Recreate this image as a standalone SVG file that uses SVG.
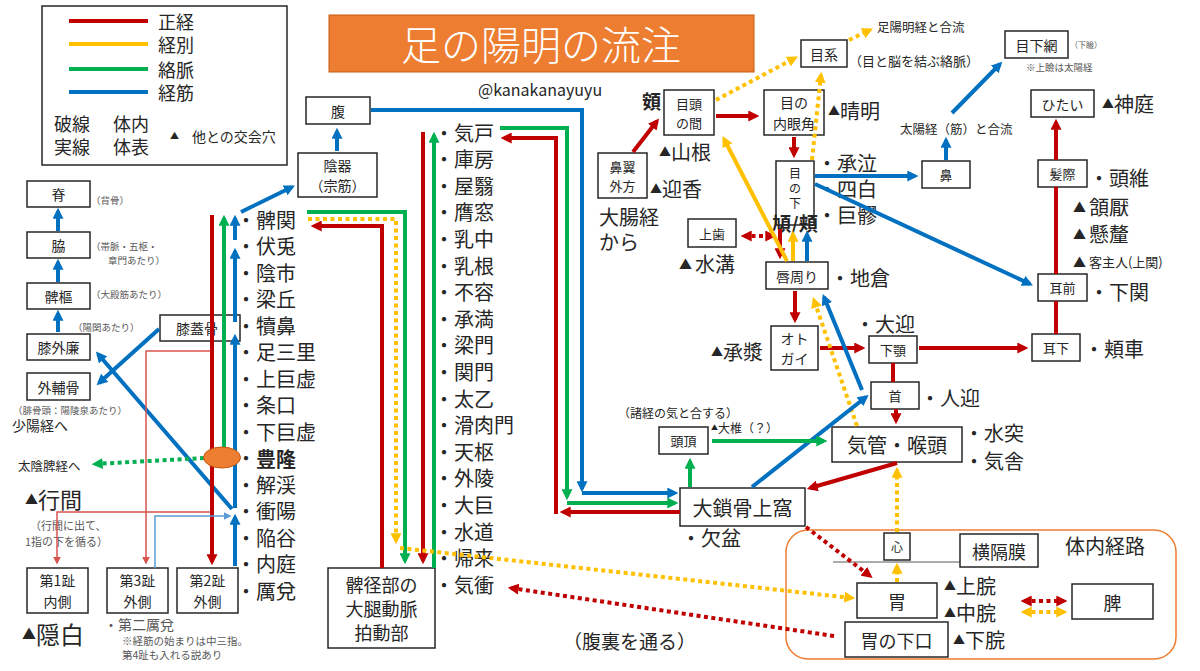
<svg xmlns="http://www.w3.org/2000/svg" width="1200" height="671" viewBox="0 0 1200 671">
<defs>
<marker id="mR" viewBox="0 0 10 10" refX="7" refY="5" markerWidth="11" markerHeight="11" markerUnits="userSpaceOnUse" orient="auto-start-reverse"><path d="M0,0L10,5L0,10z" fill="#C00000"/></marker>
<marker id="mY" viewBox="0 0 10 10" refX="7" refY="5" markerWidth="11" markerHeight="11" markerUnits="userSpaceOnUse" orient="auto-start-reverse"><path d="M0,0L10,5L0,10z" fill="#FFC000"/></marker>
<marker id="mG" viewBox="0 0 10 10" refX="7" refY="5" markerWidth="11" markerHeight="11" markerUnits="userSpaceOnUse" orient="auto-start-reverse"><path d="M0,0L10,5L0,10z" fill="#00B050"/></marker>
<marker id="mB" viewBox="0 0 10 10" refX="7" refY="5" markerWidth="11" markerHeight="11" markerUnits="userSpaceOnUse" orient="auto-start-reverse"><path d="M0,0L10,5L0,10z" fill="#0070C0"/></marker>
<marker id="mr" viewBox="0 0 10 10" refX="8" refY="5" markerWidth="8" markerHeight="8" markerUnits="userSpaceOnUse" orient="auto"><path d="M0,0L10,5L0,10z" fill="#D9534F"/></marker>
<marker id="mb" viewBox="0 0 10 10" refX="8" refY="5" markerWidth="8" markerHeight="8" markerUnits="userSpaceOnUse" orient="auto"><path d="M0,0L10,5L0,10z" fill="#5B9BD5"/></marker>
</defs>
<style>
text{font-family:"Noto Sans CJK JP","Noto Sans",sans-serif;fill:#262626;dominant-baseline:central}
.c{text-anchor:middle}
.box{fill:#fff;stroke:#262626;stroke-width:1.5}
.L{font-size:20px}
.M{font-size:14px}
.S{font-size:13px}
.n{font-size:9.5px;fill:#595959}
.gr{fill:#595959}
.r{stroke:#C00000;stroke-width:4;fill:none}
.y{stroke:#FFC000;stroke-width:4;fill:none}
.g{stroke:#00B050;stroke-width:4;fill:none}
.b{stroke:#0070C0;stroke-width:4;fill:none}
.d{stroke-dasharray:4 3.5}
.tr{stroke:#D9534F;stroke-width:1.5;fill:none}
.tb{stroke:#5B9BD5;stroke-width:1.5;fill:none}
</style>
<rect width="1200" height="671" fill="#fff"/>

<g id="legend">
<rect x="42" y="6" width="245" height="159" fill="#fff" stroke="#262626" stroke-width="1.5"/>
<line x1="69" y1="21" x2="148" y2="21" class="r"/>
<line x1="69" y1="44" x2="148" y2="44" class="y"/>
<line x1="69" y1="69" x2="148" y2="69" class="g"/>
<line x1="69" y1="92" x2="148" y2="92" class="b"/>
<text x="158" y="21" style="font-size:18px">正経</text>
<text x="158" y="44" style="font-size:18px">経別</text>
<text x="158" y="69" style="font-size:18px">絡脈</text>
<text x="158" y="92" style="font-size:18px">経筋</text>
<text x="54" y="123" style="font-size:18px">破線</text>
<text x="113" y="123" style="font-size:18px">体内</text>
<text x="54" y="146" style="font-size:18px">実線</text>
<text x="113" y="146" style="font-size:18px">体表</text>
<text x="170" y="135" style="font-size:9px">▲</text>
<text x="192" y="136" style="font-size:14px">他との交会穴</text>
</g>

<g id="title">
<rect x="329" y="15" width="425" height="57" fill="#ED7D31" stroke="#C55A11" stroke-width="1"/>
<text x="541" y="43" class="c" style="font-size:40px;fill:#fff;font-weight:300">足の陽明の流注</text>
</g>
<g id="credit"><text x="478" y="89" style="font-size:16px">@kanakanayuyu</text></g>

<g id="n-sekotsu"><rect class="box" x="27" y="181" width="63" height="26"/><text class="c M" x="58.5" y="194">脊</text><text class="n" x="91" y="200">（背骨）</text></g>
<g id="n-waki"><rect class="box" x="27" y="232" width="63" height="26"/><text class="c M" x="58.5" y="245">脇</text><text class="n" x="91" y="246">（帯脈・五枢・</text><text class="n" x="108" y="260">章門あたり）</text></g>
<g id="n-hisu"><rect class="box" x="27" y="283" width="63" height="26"/><text class="c M" x="58.5" y="296">髀樞</text><text class="n" x="91" y="294">（大殿筋あたり）</text></g>
<g id="n-shitsugairen"><rect class="box" x="27" y="334" width="63" height="26"/><text class="c M" x="58.5" y="347">膝外廉</text><text class="n" x="73" y="327">（陽関あたり）</text></g>
<g id="n-gaihokotsu"><rect class="box" x="27" y="373" width="63" height="27"/><text class="c M" x="58.5" y="386.5">外輔骨</text><text class="n" x="13" y="410">（腓骨頭：陽陵泉あたり）</text><text x="12" y="425" style="font-size:14px">少陽経へ</text></g>
<g id="n-shitsugaikotsu"><rect class="box" x="160" y="315" width="80" height="26"/><text class="c M" x="197" y="328">膝蓋骨</text></g>
<g id="n-toe1"><rect class="box" x="27" y="568" width="61" height="45"/><text class="c M" x="57.5" y="580">第1趾</text><text class="c M" x="57.5" y="601">内側</text></g>
<g id="n-toe3"><rect class="box" x="107" y="568" width="61" height="45"/><text class="c M" x="137.5" y="580">第3趾</text><text class="c M" x="137.5" y="601">外側</text></g>
<g id="n-toe2"><rect class="box" x="177" y="568" width="61" height="45"/><text class="c M" x="207.5" y="580">第2趾</text><text class="c M" x="207.5" y="601">外側</text></g>
<g id="left-notes">
<text x="18" y="465" style="font-size:12.5px">太陰脾経へ</text>
<text x="25" y="498" style="font-size:22px"><tspan style="font-size:13px">▲</tspan>行間</text>
<text x="30" y="525" style="font-size:11px" class="gr">（行間に出て、</text>
<text x="25" y="541" style="font-size:11px" class="gr">1指の下を循る）</text>
<text x="22" y="633" style="font-size:24px"><tspan style="font-size:14px">▲</tspan>隠白</text>
<text x="104" y="624" style="font-size:14px" class="gr">・第二厲兌</text>
<text x="122" y="640" style="font-size:10.5px" class="gr">※経筋の始まりは中三指。</text>
<text x="122" y="654" style="font-size:10.5px" class="gr">第4趾も入れる説あり</text>
</g>

<g id="leg-points" class="L">
<text x="236" y="219">・髀関</text>
<text x="236" y="245.5">・伏兎</text>
<text x="236" y="272">・陰市</text>
<text x="236" y="298.5">・梁丘</text>
<text x="236" y="325">・犢鼻</text>
<text x="236" y="351.5">・足三里</text>
<text x="236" y="378">・上巨虚</text>
<text x="236" y="404.5">・条口</text>
<text x="236" y="431">・下巨虚</text>
<text x="236" y="457.5">・<tspan style="font-weight:bold">豊隆</tspan></text>
<text x="236" y="484">・解渓</text>
<text x="236" y="510.5">・衝陽</text>
<text x="236" y="537">・陥谷</text>
<text x="236" y="563.5">・内庭</text>
<text x="236" y="590">・厲兌</text>
</g>

<g id="n-hara"><rect class="box" x="306" y="97" width="64" height="27"/><text class="c M" x="338" y="110.5">腹</text></g>
<g id="n-inki"><rect class="box" x="298" y="153" width="79" height="44"/><text class="c M" x="337.5" y="165">陰器</text><text class="c M" x="337.5" y="185">（宗筋）</text></g>
<g id="n-hikei"><rect class="box" x="328" y="568" width="107" height="80"/><text class="c" style="font-size:18px" x="381.5" y="584">髀径部の</text><text class="c" style="font-size:18px" x="381.5" y="608">大腿動脈</text><text class="c" style="font-size:18px" x="381.5" y="632">拍動部</text></g>

<g id="trunk-points" class="L">
<text x="434" y="132">・気戸</text>
<text x="434" y="158.6">・庫房</text>
<text x="434" y="185.2">・屋翳</text>
<text x="434" y="211.8">・膺窓</text>
<text x="434" y="238.4">・乳中</text>
<text x="434" y="265">・乳根</text>
<text x="434" y="291.6">・不容</text>
<text x="434" y="318.2">・承満</text>
<text x="434" y="344.8">・梁門</text>
<text x="434" y="371.4">・関門</text>
<text x="434" y="398">・太乙</text>
<text x="434" y="424.6">・滑肉門</text>
<text x="434" y="451.2">・天枢</text>
<text x="434" y="477.8">・外陵</text>
<text x="434" y="504.4">・大巨</text>
<text x="434" y="531">・水道</text>
<text x="434" y="557.6">・帰来</text>
<text x="434" y="584.2">・気衝</text>
</g>
<text x="563" y="640" style="font-size:19px">（腹裏を通る）</text>

<g id="n-megashira"><rect class="box" x="664" y="90" width="50" height="45"/><text class="c S" x="689" y="103">目頭</text><text class="c S" x="689" y="122">の間</text><text x="642" y="100" style="font-size:19px;font-weight:bold">頞</text><text x="659" y="151" class="L"><tspan style="font-size:12px">▲</tspan>山根</text></g>
<g id="n-naiganka"><rect class="box" x="764" y="90" width="60" height="45"/><text class="c M" x="794" y="102">目の</text><text class="c M" x="794" y="123">内眼角</text><text x="828" y="110" class="L"><tspan style="font-size:12px">▲</tspan>晴明</text></g>
<g id="n-mokkei"><rect class="box" x="801" y="40" width="46" height="27"/><text class="c M" x="824" y="53.5">目系</text><text x="849" y="60" style="font-size:13px">（目と脳を結ぶ絡脈）</text><text x="877" y="26" style="font-size:12.5px">足陽明経と合流</text></g>
<g id="n-mokkamou"><rect class="box" x="1005" y="31" width="63" height="27"/><text class="c M" x="1036.5" y="44.5">目下網</text><text x="1070" y="44" style="font-size:8px" class="gr">（下瞼）</text><text x="1026" y="67" style="font-size:9.5px" class="gr">※上瞼は太陽経</text></g>
<g id="n-hitai"><rect class="box" x="1031" y="90" width="63" height="27"/><text class="c M" x="1062.5" y="103.5">ひたい</text><text x="1102" y="103" class="L"><tspan style="font-size:12px">▲</tspan>神庭</text></g>
<g id="n-biyoku"><rect class="box" x="598" y="153" width="49" height="45"/><text class="c S" x="622.5" y="166">鼻翼</text><text class="c S" x="622.5" y="185">外方</text><text x="650" y="188" class="L"><tspan style="font-size:12px">▲</tspan>迎香</text><text x="599" y="216" class="L">大腸経</text><text x="599" y="241" class="L">から</text></g>
<g id="n-menoshita"><rect class="box" x="776" y="161" width="38" height="64"/><text class="c" style="font-size:12px" x="795" y="172">目</text><text class="c" style="font-size:12px" x="795" y="187">の</text><text class="c" style="font-size:12px" x="795" y="202">下</text><text class="c" x="795" y="222" style="font-size:19px;font-weight:bold">頄/頬</text></g>
<g id="face-points1" class="L"><text x="817" y="162">・承泣</text><text x="817" y="188">・四白</text><text x="817" y="214">・巨髎</text></g>
<g id="n-hana"><rect class="box" x="922" y="161" width="48" height="27"/><text class="c S" x="946" y="174.5">鼻</text><text x="900" y="128" style="font-size:12.5px">太陽経（筋）と合流</text></g>
<g id="n-hassai"><rect class="box" x="1038" y="160" width="49" height="27"/><text class="c S" x="1062.5" y="173.5">髪際</text><text x="1089" y="177" class="L">・頭維</text></g>
<g id="temple-points"><text x="1073" y="206" class="L"><tspan style="font-size:13px">▲ </tspan>頷厭</text><text x="1073" y="233" class="L"><tspan style="font-size:13px">▲ </tspan>懸釐</text><text x="1073" y="261" style="font-size:13px">▲ 客主人(上関)</text></g>
<g id="n-jizen"><rect class="box" x="1038" y="274" width="49" height="27"/><text class="c S" x="1062.5" y="287.5">耳前</text><text x="1089" y="291" class="L">・下関</text></g>
<g id="n-joshi"><rect class="box" x="688" y="219" width="48" height="28"/><text class="c S" x="712" y="233">上歯</text><text x="679" y="263" class="L"><tspan style="font-size:13px">▲ </tspan>水溝</text></g>
<g id="n-shinshuu"><rect class="box" x="766" y="262" width="62" height="27"/><text class="c M" x="797" y="275.5">唇周り</text><text x="830" y="277" class="L">・地倉</text></g>
<g id="n-otogai"><rect class="box" x="771" y="326" width="47" height="44"/><text class="c M" x="794.5" y="338">オト</text><text class="c M" x="794.5" y="358">ガイ</text><text x="711" y="351" class="L"><tspan style="font-size:12px">▲</tspan>承漿</text></g>
<g id="n-kagaku"><rect class="box" x="869" y="336" width="48" height="27"/><text class="c S" x="893" y="349.5">下顎</text><text x="855" y="323" class="L">・大迎</text></g>
<g id="n-jika"><rect class="box" x="1032" y="334" width="48" height="27"/><text class="c S" x="1056" y="347.5">耳下</text><text x="1084" y="348" class="L">・頬車</text></g>
<g id="n-kubi"><rect class="box" x="871" y="382" width="48" height="27"/><text class="c S" x="895" y="395.5">首</text><text x="920" y="397" class="L">・人迎</text></g>
<g id="n-kikan"><rect class="box" x="832" y="427" width="130" height="35"/><text class="c L" x="897" y="444.5">気管・喉頭</text><text x="964" y="432" class="L">・水突</text><text x="964" y="460" class="L">・気舎</text></g>
<g id="n-touchou"><rect class="box" x="659" y="427" width="49" height="27"/><text class="c S" x="683.5" y="440.5">頭頂</text><text x="618" y="412" style="font-size:12px">（諸経の気と合する）</text><text x="711" y="427" style="font-size:12px"><tspan style="font-size:7px">▲</tspan>大椎（？）</text></g>
<g id="n-sakotsu"><rect class="box" x="680" y="488" width="125" height="38"/><text class="c L" x="742.5" y="507">大鎖骨上窩</text><text x="681" y="537" class="L">・欠盆</text></g>

<g id="n-tainai"><rect x="786" y="530" width="390" height="129" rx="22" fill="none" stroke="#ED7D31" stroke-width="1.5"/><text x="1065" y="545" class="L">体内経路</text></g>
<line x1="833" y1="562" x2="960" y2="562" stroke="#595959" stroke-width="1"/>
<g id="n-shin"><rect class="box" x="884" y="533" width="26" height="27"/><text class="c" style="font-size:12px" x="897" y="546.5">心</text></g>
<g id="n-oukakumaku"><rect class="box" x="960" y="534" width="78" height="33"/><text class="c" style="font-size:18px" x="999" y="550.5">横隔膜</text></g>
<g id="n-i"><rect class="box" x="857" y="583" width="80" height="35"/><text class="c" style="font-size:18px" x="897" y="600.5">胃</text></g>
<g id="n-ikakou"><rect class="box" x="845" y="622" width="103" height="35"/><text class="c" style="font-size:18px" x="896.5" y="639.5">胃の下口</text></g>
<g id="stomach-points"><text x="944" y="585" class="L"><tspan style="font-size:12px">▲</tspan>上脘</text><text x="944" y="612" class="L"><tspan style="font-size:12px">▲</tspan>中脘</text><text x="953" y="639" class="L"><tspan style="font-size:12px">▲</tspan>下脘</text></g>
<g id="n-hi"><rect class="box" x="1072" y="584" width="81" height="35"/><text class="c" style="font-size:18px" x="1112.5" y="601.5">脾</text></g>

<g id="connectors">
<line x1="58" y1="332" x2="58" y2="313" class="b" marker-end="url(#mB)"/>
<line x1="58" y1="282" x2="58" y2="262" class="b" marker-end="url(#mB)"/>
<line x1="58" y1="231" x2="58" y2="211" class="b" marker-end="url(#mB)"/>
<line x1="159" y1="329" x2="99" y2="383" class="b" marker-end="url(#mB)"/>
<line x1="232" y1="509" x2="98" y2="354" class="b" marker-end="url(#mB)"/>
<line x1="235" y1="566" x2="235" y2="517" class="b" marker-end="url(#mB)"/>
<line x1="235" y1="508" x2="235" y2="337" class="b" marker-end="url(#mB)"/>
<line x1="235" y1="322" x2="235" y2="251" class="b" marker-end="url(#mB)"/>
<line x1="235" y1="240" x2="235" y2="218" class="b" marker-end="url(#mB)"/>
<line x1="241" y1="212" x2="292" y2="187" class="b" marker-end="url(#mB)"/>
<line x1="337" y1="151" x2="337" y2="131" class="b" marker-end="url(#mB)"/>
<line x1="212" y1="215" x2="212" y2="562" class="r" marker-end="url(#mR)"/>
<line x1="224" y1="447" x2="224" y2="218" class="g" marker-end="url(#mG)"/>
<line x1="204" y1="458" x2="95" y2="464" class="g d" marker-end="url(#mG)"/>
<path d="M210,512H57V563" class="tr" marker-end="url(#mr)"/>
<path d="M210,351H146V563" class="tr" marker-end="url(#mr)"/>
<path d="M155,568V516H230" class="tb" marker-end="url(#mb)"/>
<path d="M307,212H405V561" class="g" marker-end="url(#mG)"/>
<path d="M308,219H396V541" class="y d" marker-end="url(#mY)"/>
<path d="M382,568V226H314" class="r" marker-end="url(#mR)"/>
<path d="M423,132V561" class="r" marker-end="url(#mR)"/>
<path d="M434,568V135" class="g" marker-end="url(#mG)"/>
<path d="M400,548L852,598" class="y d" marker-end="url(#mY)"/>
<path d="M371,110H582V489" class="b" marker-end="url(#mB)"/>
<path d="M582,493H675" class="b" marker-end="url(#mB)"/>
<path d="M500,128H567V497" class="g" marker-end="url(#mG)"/>
<path d="M567,503H675" class="g" marker-end="url(#mG)"/>
<path d="M680,512H563" class="r" marker-end="url(#mR)"/>
<path d="M556,514V138H504" class="r" marker-end="url(#mR)"/>
<path d="M834,636L511,588" class="r d" marker-end="url(#mR)"/>
<line x1="633" y1="152" x2="657" y2="121" class="r" marker-end="url(#mR)"/>
<line x1="716" y1="116" x2="756" y2="116" class="r" marker-end="url(#mR)"/>
<line x1="716" y1="100" x2="795" y2="58" class="y d" marker-end="url(#mY)"/>
<line x1="849" y1="40" x2="870" y2="30" class="y d" marker-end="url(#mY)"/>
<line x1="812" y1="160" x2="821" y2="75" class="y d" marker-end="url(#mY)"/>
<line x1="794" y1="137" x2="794" y2="155" class="r" marker-end="url(#mR)"/>
<line x1="815" y1="176" x2="915" y2="176" class="b" marker-end="url(#mB)"/>
<line x1="815" y1="184" x2="1030" y2="284" class="b" marker-end="url(#mB)"/>
<line x1="946" y1="160" x2="946" y2="140" class="b" marker-end="url(#mB)"/>
<line x1="952" y1="113" x2="1000" y2="64" class="b" marker-end="url(#mB)"/>
<line x1="1056" y1="160" x2="1056" y2="122" class="r" marker-end="url(#mR)"/>
<line x1="1056" y1="274" x2="1056" y2="187" class="r"/>
<line x1="1056" y1="334" x2="1056" y2="301" class="r"/>
<line x1="919" y1="348" x2="1025" y2="348" class="r" marker-end="url(#mR)"/>
<line x1="744" y1="236" x2="773" y2="236" class="r d" marker-start="url(#mR)" marker-end="url(#mR)"/>
<line x1="780" y1="229" x2="780" y2="256" class="r" marker-end="url(#mR)"/>
<line x1="793" y1="261" x2="793" y2="234" class="y" marker-end="url(#mY)"/>
<line x1="807" y1="261" x2="807" y2="234" class="b" marker-end="url(#mB)"/>
<line x1="787" y1="261" x2="724" y2="139" class="y" marker-end="url(#mY)"/>
<line x1="795" y1="291" x2="795" y2="320" class="r" marker-end="url(#mR)"/>
<line x1="820" y1="348" x2="862" y2="348" class="r" marker-end="url(#mR)"/>
<line x1="893" y1="363" x2="893" y2="382" class="r"/>
<line x1="896" y1="409" x2="896" y2="421" class="r" marker-end="url(#mR)"/>
<line x1="862" y1="390" x2="824" y2="297" class="b" marker-end="url(#mB)"/>
<line x1="857" y1="426" x2="814" y2="300" class="y d" marker-end="url(#mY)"/>
<line x1="752" y1="487" x2="866" y2="397" class="b" marker-end="url(#mB)"/>
<line x1="897" y1="463" x2="810" y2="488" class="r" marker-end="url(#mR)"/>
<line x1="690" y1="487" x2="690" y2="461" class="g" marker-end="url(#mG)"/>
<line x1="712" y1="441" x2="824" y2="441" class="g" marker-end="url(#mG)"/>
<line x1="806" y1="527" x2="870" y2="576" class="r d" marker-end="url(#mR)"/>
<line x1="897" y1="582" x2="897" y2="566" class="y d" marker-end="url(#mY)"/>
<line x1="897" y1="532" x2="897" y2="470" class="y d" marker-end="url(#mY)"/>
<line x1="1024" y1="601" x2="1064" y2="601" class="r d" marker-start="url(#mR)" marker-end="url(#mR)"/>
<line x1="1024" y1="612" x2="1064" y2="612" class="y d" marker-start="url(#mY)" marker-end="url(#mY)"/>
</g>
<g id="n-hoki"><ellipse cx="222" cy="457.5" rx="18.5" ry="10.5" fill="#ED7D31" stroke="#C55A11" stroke-width="1"/></g>
</svg>
